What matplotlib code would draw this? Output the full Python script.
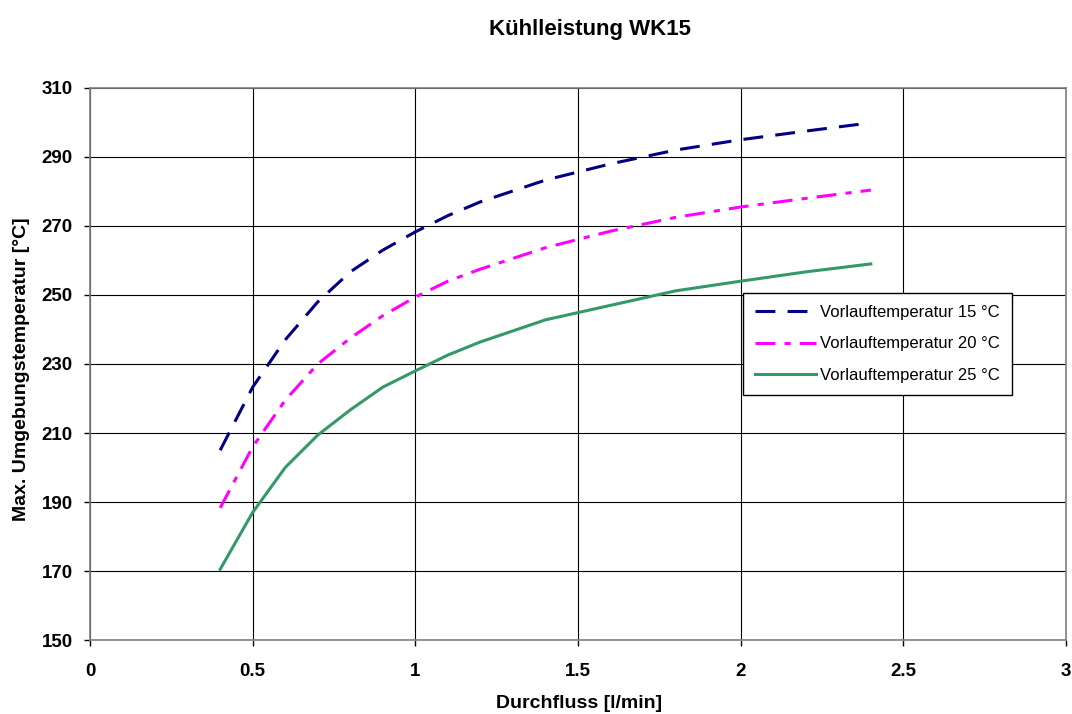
import numpy as np
import matplotlib.pyplot as plt

plt.rcParams['font.family'] = ['Liberation Sans', 'DejaVu Sans']

durchfluss = [0.4, 0.5, 0.6, 0.7, 0.8, 0.9, 1.0, 1.1, 1.2, 1.4, 1.6, 1.8, 2.0, 2.2, 2.4]
vl15 = [205, 223.3, 237, 248, 256.7, 263, 268.3, 273, 277, 283.3, 288, 292, 295, 297.5, 299.9]
vl20 = [188.3, 206, 219.5, 230, 237.5, 244, 249.4, 254, 257.5, 263.7, 268.5, 272.5, 275.5, 278, 280.4]
vl25 = [170.5, 187, 200, 209.4, 216.7, 223.3, 228, 232.6, 236.4, 242.8, 247, 251.2, 254, 256.7, 259]
labels = ['Vorlauftemperatur 15 °C', 'Vorlauftemperatur 20 °C', 'Vorlauftemperatur 25 °C']

fig = plt.figure(figsize=(10.72, 7.14), dpi=100)
ax = fig.add_axes([0.084, 0.1036, 0.9104, 0.7732])

ax.plot(durchfluss, vl15, color='#000080', lw=2.2, dashes=(6.5, 4), label=labels[0])
ax.plot(durchfluss, vl20, color='#ff00ff', lw=2.2, dashes=(6.5, 3, 2, 3), label=labels[1])
ax.plot(durchfluss, vl25, color='#339966', lw=2.2, label=labels[2])

ax.set_xlim(0, 3)
ax.set_ylim(150, 310)
ax.set_xticks(np.arange(0, 3.01, 0.5))
ax.set_xticklabels(['0', '0.5', '1', '1.5', '2', '2.5', '3'])
ax.set_yticks(np.arange(150, 311, 20))
ax.grid(True, color='black', lw=0.8)
ax.set_axisbelow(True)
for s in ax.spines.values():
    s.set_color('#808080')
    s.set_linewidth(1.2)
ax.tick_params(direction='out', length=4.3, width=1, labelsize=13.5)
ax.tick_params(axis='y', pad=8)
ax.tick_params(axis='x', pad=12)
for t in ax.get_xticklabels() + ax.get_yticklabels():
    t.set_fontweight('bold')

ax.set_xlabel('Durchfluss [l/min]', fontsize=14, fontweight='bold')
ax.set_ylabel('Max. Umgebungstemperatur [°C]', fontsize=14, fontweight='bold')
ax.xaxis.set_label_coords(0.501, -0.0996)
ax.yaxis.set_label_coords(-0.062, 0.49)
fig.suptitle('Kühlleistung WK15', x=0.55, y=0.973, fontsize=16, fontweight='bold')

leg = ax.legend(loc='upper left', bbox_to_anchor=(0.669, 0.6286), borderaxespad=0,
                fontsize=12, frameon=True, fancybox=False, edgecolor='black',
                framealpha=1, handlelength=3.7, handletextpad=0.25,
                borderpad=0.7, labelspacing=1.0)
leg.get_frame().set_linewidth(1.0)

fig.savefig('out.png', dpi=100)
